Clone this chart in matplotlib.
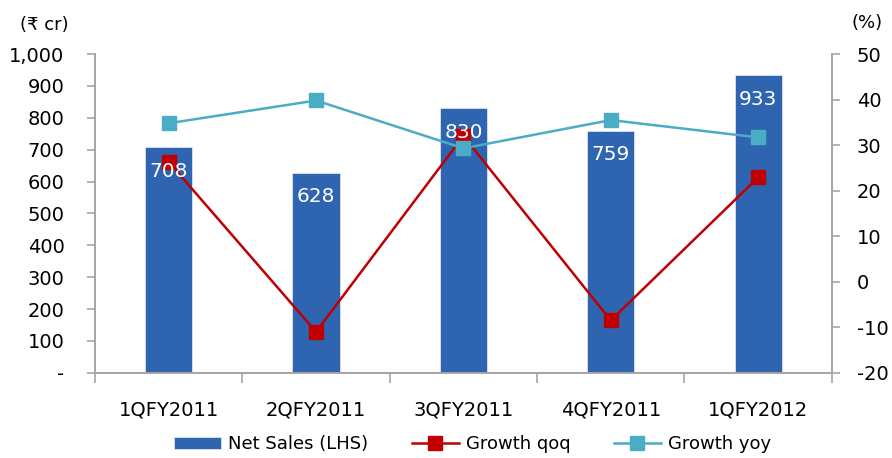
import matplotlib.pyplot as plt
import numpy as np
from matplotlib.ticker import FuncFormatter

quarters = ["1QFY2011", "2QFY2011", "3QFY2011", "4QFY2011", "1QFY2012"]
net_sales = [708, 628, 830, 759, 933]
growth_qoq = [26.3, -11.0, 32.0, -8.5, 22.9]
growth_yoy = [34.8, 39.8, 29.3, 35.5, 31.7]

plt.rcParams["font.family"] = ["DejaVu Sans"]
plt.rcParams["axes.unicode_minus"] = False
bar_color = "#2f65b0"
qoq_color = "#c00000"
yoy_color = "#4bacc6"
axis_gray = "#a6a6a6"

fig = plt.figure(figsize=(8.92, 4.58), dpi=100)
ax = fig.add_axes([0.1065, 0.186, 0.826, 0.696])
x = np.arange(len(quarters))

bars = ax.bar(x, net_sales, width=0.32, color=bar_color, edgecolor="#dbe4f1",
              linewidth=0.6, label="Net Sales (LHS)", zorder=2)

ax.set_xlim(-0.5, len(quarters) - 0.5)
ax.set_ylim(0, 1000)
ax.set_yticks(range(0, 1001, 100))
ax.yaxis.set_major_formatter(FuncFormatter(lambda v, p: "-" if v == 0 else f"{int(v):,}"))
ax.set_xticks(x)
ax.set_xticklabels(quarters)
ax.set_xticks(np.arange(-0.5, len(quarters), 1), minor=True)
ax.tick_params(axis="x", which="major", length=0, pad=20, labelsize=14)
ax.tick_params(axis="x", which="minor", length=7, color=axis_gray, width=1.2)
ax.tick_params(axis="y", length=6, color=axis_gray, width=1.2, labelsize=14, pad=16)

ax2 = ax.twinx()
ax2.set_ylim(-20, 50)
ax2.set_yticks(range(-20, 51, 10))
l1, = ax2.plot(x, growth_qoq, color=qoq_color, lw=1.8, marker="s", ms=10,
               label="Growth qoq", zorder=3)
l2, = ax2.plot(x, growth_yoy, color=yoy_color, lw=1.8, marker="s", ms=10,
               label="Growth yoy", zorder=3)
ax2.tick_params(axis="y", length=6, color=axis_gray, width=1.2, labelsize=14, pad=12)

# value labels go on the top axes so they sit above the line markers
for xi, v in zip(x, net_sales):
    ax2.text(xi, v - 75, f"{v}", transform=ax.transData, ha="center", va="center",
             color="white", fontsize=14.5, zorder=5)

for a in (ax, ax2):
    a.spines["top"].set_visible(False)
    for s in ("left", "right", "bottom"):
        a.spines[s].set_color(axis_gray)
        a.spines[s].set_linewidth(1.4)

fig.text(0.05, 0.945, "(₹ cr)", fontsize=13, ha="center", va="center")
fig.text(0.972, 0.95, "(%)", fontsize=13, ha="center", va="center")

fig.legend(handles=[bars, l1, l2], loc="lower center", ncol=3, frameon=False,
           fontsize=13, bbox_to_anchor=(0.53, -0.025), handlelength=2.6,
           columnspacing=2.4, handletextpad=0.4)

fig.savefig("out.png", dpi=100)
